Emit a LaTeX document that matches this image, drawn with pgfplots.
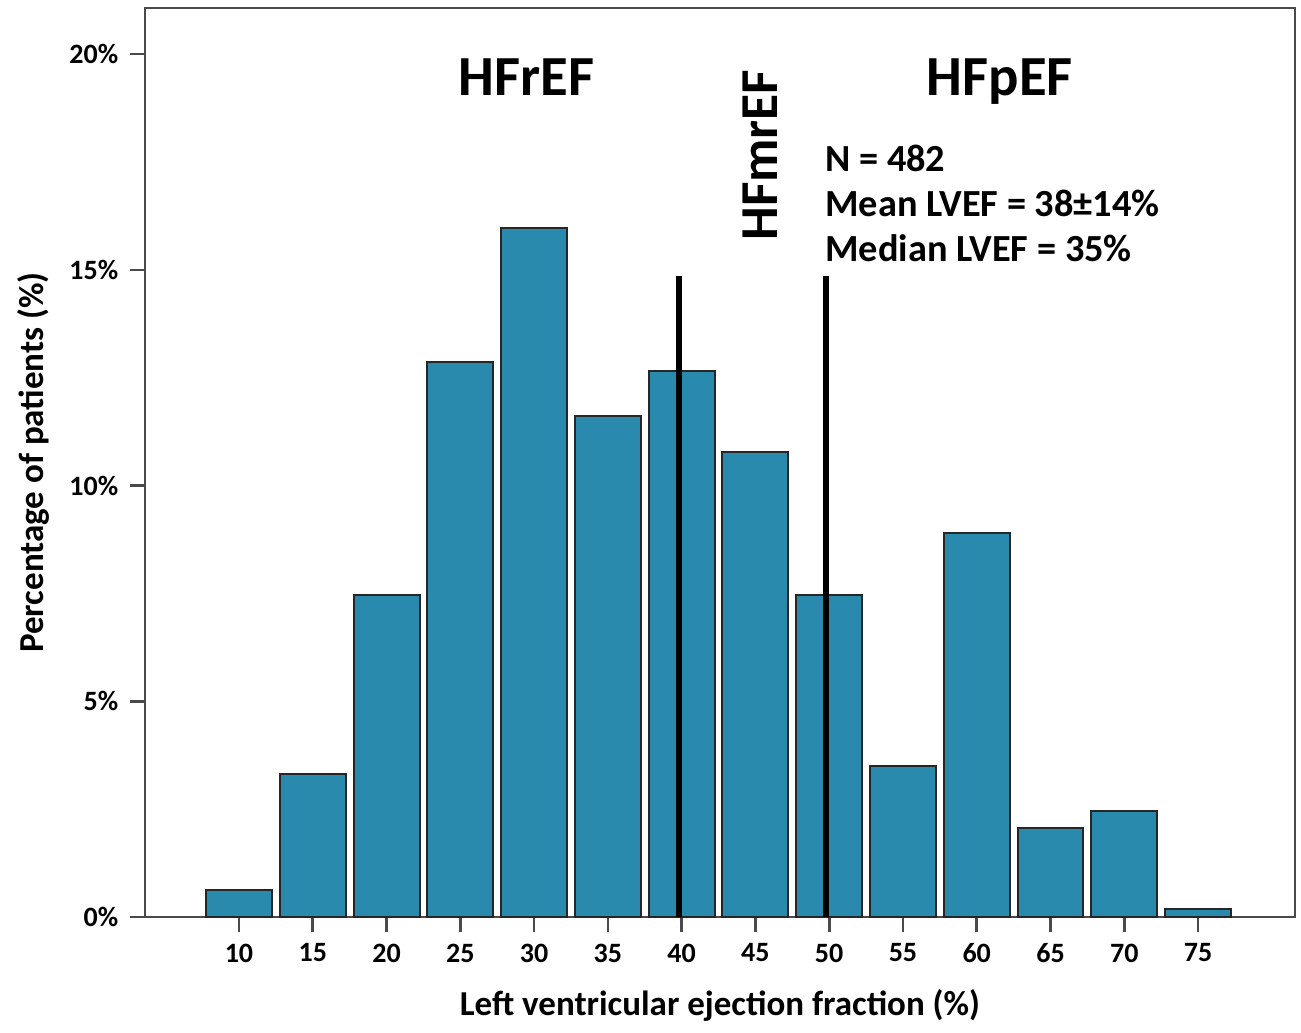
\documentclass[border=0pt]{standalone}
\usepackage{fontspec}
\setmainfont{Carlito}
\usepackage{pgfplots}
\pgfplotsset{compat=1.18}
\definecolor{barfill}{HTML}{2A8AAD}
\definecolor{axgray}{HTML}{4A4A4A}
\begin{document}
\begin{tikzpicture}
\begin{axis}[
    scale only axis,
    width=345pt, height=272.7pt,
    xmin=3.63, xmax=81.57,
    ymin=0, ymax=21.07,
    axis line style={axgray, line width=0.8pt},
    tick style={axgray, line width=0.8pt},
    tick align=outside,
    major tick length=4.5pt,
    xtick={10,15,...,75},
    ytick={0,5,10,15,20},
    yticklabels={0\%,5\%,10\%,15\%,20\%},
    xtick pos=bottom, ytick pos=left,
    ticklabel style={font=\bfseries\fontsize{8.4}{9}\selectfont},
    /pgf/number format/assume math mode=true,
    xlabel={\bfseries Left ventricular ejection fraction (\%)},
    ylabel={\bfseries Percentage of patients (\%)},
    label style={font=\bfseries\fontsize{10.5}{12}\selectfont},
    xlabel style={yshift=-1pt},
    ylabel style={yshift=-0.8pt},
    clip=false,
]
\addplot[ybar, bar width=4.47, fill=barfill, draw=black!85, line width=0.6pt] coordinates {
    (10,0.63) (15,3.31) (20,7.46) (25,12.86) (30,15.97) (35,11.61) (40,12.65)
    (45,10.78) (50,7.46) (55,3.50) (60,8.90) (65,2.06) (70,2.46) (75,0.19)
};
\addplot[black, line width=1.8pt] coordinates {(39.8,0) (39.8,14.86)};
\addplot[black, line width=1.8pt] coordinates {(49.8,0) (49.8,14.86)};
\node[font=\bfseries\fontsize{17}{20}\selectfont, anchor=base] at (axis cs:29.5,19.05) {HFrEF};
\node[font=\bfseries\fontsize{17}{20}\selectfont, anchor=base] at (axis cs:61.56,19.05) {HFpEF};
\node[font=\bfseries\fontsize{16}{19}\selectfont, rotate=90] at (axis cs:45.3,17.66) {HFmrEF};
\node[font=\bfseries\fontsize{11.5}{13}\selectfont, anchor=west, inner sep=0pt] at (axis cs:49.7,17.59) {N = 482};
\node[font=\bfseries\fontsize{11.5}{13}\selectfont, anchor=west, inner sep=0pt] at (axis cs:49.7,16.55) {Mean LVEF = 38±14\%};
\node[font=\bfseries\fontsize{11.5}{13}\selectfont, anchor=west, inner sep=0pt] at (axis cs:49.7,15.50) {Median LVEF = 35\%};
\end{axis}
\path (current axis.south west) ++(-43.5pt,-30.9pt) coordinate (bbsw);
\path (current axis.north east) ++(1.8pt,2.4pt) coordinate (bbne);
\path (bbsw) rectangle (bbne);
\end{tikzpicture}
\end{document}
